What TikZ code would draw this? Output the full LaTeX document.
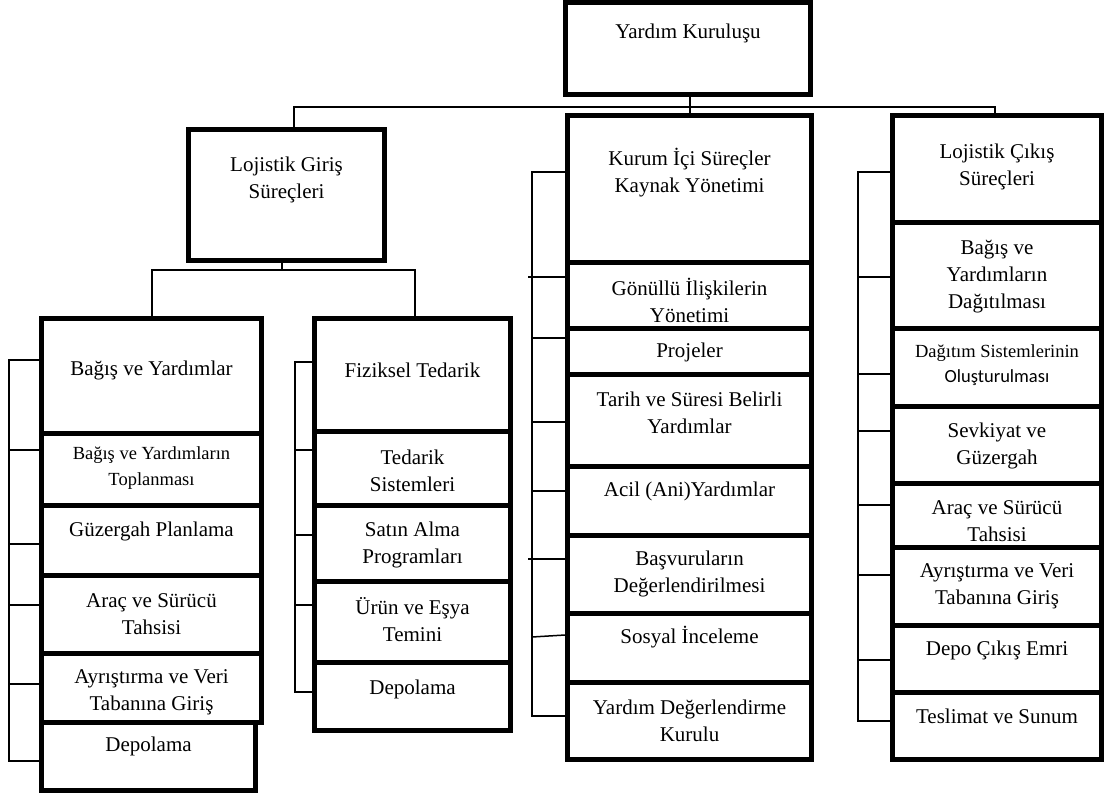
\documentclass[tikz,border=0pt]{standalone}
\usepackage{fontspec}
\setmainfont{Liberation Serif}
\newfontfamily\carlfont{Carlito}
\usetikzlibrary{fit}
\tikzset{
  boxst/.style={draw, line width=5pt, inner sep=0pt, rectangle},
  txt/.style={align=center, font=\fontsize{21}{27}\selectfont, inner sep=0pt},
  smalltxt/.style={align=center, font=\fontsize{18.5}{25.5}\selectfont, inner sep=0pt},
  conn/.style={line width=1.5pt},
}
\newcommand\mkbox[5]{\node[boxst, fit={(#2,-#3) (#4,-#5)}] (#1) {};}
\begin{document}
\begin{tikzpicture}[x=1pt,y=1pt]
\useasboundingbox (0,0) rectangle (1114,-796);

% ---------- boxes ----------
\mkbox{root}{565.5}{2.5}{810.5}{94.5}
\mkbox{lg}{188.5}{129.5}{384.5}{260.5}
% column 1
\mkbox{a1}{41.5}{318.5}{261.5}{433}
\mkbox{a2}{41.5}{433}{261.5}{505}
\mkbox{a3}{41.5}{505}{261.5}{575}
\mkbox{a4}{41.5}{575}{261.5}{653}
\mkbox{a5}{41.5}{653}{261.5}{722}
\mkbox{a6}{41.5}{722}{255.5}{790.5}
% column 2
\mkbox{b1}{314.5}{318.5}{510.5}{431}
\mkbox{b2}{314.5}{431}{510.5}{505}
\mkbox{b3}{314.5}{505}{510.5}{581}
\mkbox{b4}{314.5}{581}{510.5}{662}
\mkbox{b5}{314.5}{662}{510.5}{730.5}
% column 3
\mkbox{c0}{567.5}{115.5}{811.5}{262}
\mkbox{c1}{567.5}{262}{811.5}{328}
\mkbox{c2}{567.5}{328}{811.5}{374}
\mkbox{c3}{567.5}{374}{811.5}{466}
\mkbox{c4}{567.5}{466}{811.5}{535}
\mkbox{c5}{567.5}{535}{811.5}{613}
\mkbox{c6}{567.5}{613}{811.5}{682}
\mkbox{c7}{567.5}{682}{811.5}{759.5}
% column 4
\mkbox{d0}{892.5}{115.5}{1101.5}{222}
\mkbox{d1}{892.5}{222}{1101.5}{328}
\mkbox{d2}{892.5}{328}{1101.5}{406}
\mkbox{d3}{892.5}{406}{1101.5}{483}
\mkbox{d4}{892.5}{483}{1101.5}{547}
\mkbox{d5}{892.5}{547}{1101.5}{625}
\mkbox{d6}{892.5}{625}{1101.5}{692}
\mkbox{d7}{892.5}{692}{1101.5}{759.5}

% ---------- texts ----------
\node[txt] (troot) at (root |- 0,-33) {Yardım Kuruluşu};
\node[txt] (tlg) at (lg |- 0,-180) {Lojistik Giriş\\Süreçleri};
\node[txt] (ta1) at (a1 |- 0,-370) {Bağış ve Yardımlar};
\node[smalltxt] (ta2) at (a2 |- 0,-468) {Bağış ve Yardımların\\Toplanması};
\node[txt] (ta3) at (a3 |- 0,-531) {Güzergah Planlama};
\node[txt] (ta4) at (a4 |- 0,-614) {Araç ve Sürücü\\Tahsisi};
\node[txt] (ta5) at (a5 |- 0,-692) {Ayrıştırma ve Veri\\Tabanına Giriş};
\node[txt] (ta6) at (a6 |- 0,-746) {Depolama};
\node[txt] (tb1) at (b1 |- 0,-370) {Fiziksel Tedarik};
\node[txt] (tb2) at (b2 |- 0,-471) {Tedarik\\Sistemleri};
\node[txt] (tb3) at (b3 |- 0,-545) {Satın Alma\\Programları};
\node[txt] (tb4) at (b4 |- 0,-620) {Ürün ve Eşya\\Temini};
\node[txt] (tb5) at (b5 |- 0,-689) {Depolama};
\node[txt] (tc0) at (c0 |- 0,-173) {Kurum İçi Süreçler\\Kaynak Yönetimi};
\node[txt] (tc1) at (c1 |- 0,-300) {Gönüllü İlişkilerin\\Yönetimi};
\node[txt] (tc2) at (c2 |- 0,-352) {Projeler};
\node[txt] (tc3) at (c3 |- 0,-413) {Tarih ve Süresi Belirli\\Yardımlar};
\node[txt] (tc4) at (c4 |- 0,-491) {Acil (Ani)Yardımlar};
\node[txt] (tc5) at (c5 |- 0,-574) {Başvuruların\\Değerlendirilmesi};
\node[txt] (tc6) at (c6 |- 0,-637) {Sosyal İnceleme};
\node[txt] (tc7) at (c7 |- 0,-721) {Yardım Değerlendirme\\Kurulu};
\node[txt] (td0) at (d0 |- 0,-167) {Lojistik Çıkış\\Süreçleri};
\node[txt] (td1) at (d1 |- 0,-277) {Bağış ve\\Yardımların\\Dağıtılması};
\node[smalltxt] (td2) at (d2 |- 0,-365) {Dağıtım Sistemlerinin\\{\carlfont Oluşturulması}};
\node[txt] (td3) at (d3 |- 0,-446) {Sevkiyat ve\\Güzergah};
\node[txt] (td4) at (d4 |- 0,-521) {Araç ve Sürücü\\Tahsisi};
\node[txt] (td5) at (d5 |- 0,-586) {Ayrıştırma ve Veri\\Tabanına Giriş};
\node[txt] (td6) at (d6 |- 0,-650) {Depo Çıkış Emri};
\node[txt] (td7) at (d7 |- 0,-716) {Teslimat ve Sunum};

% ---------- tree connectors ----------
\coordinate (hub) at (690,-107);
\coordinate (hub2) at (282,-270);
\draw[conn] (root.south -| hub) -- (c0.north -| hub);
\draw[conn] (lg.north -| 294,0) |- (hub) -| (d0.north -| 995,0);
\draw[conn] (lg.south -| hub2) -- (hub2);
\draw[conn] (a1.north -| 152,0) |- (hub2) -| (b1.north -| 415,0);

% ---------- side brackets ----------
\draw[conn] (a1.west |- 0,-360) -| (9,-761) -- (a6.west |- 0,-761);
\foreach \yy in {450,544,605,684}
  \draw[conn] (9,-\yy) -- (a1.west |- 0,-\yy);

\draw[conn] (b1.west |- 0,-362) -| (295,-692) -- (b5.west |- 0,-692);
\foreach \yy in {450,535,605}
  \draw[conn] (295,-\yy) -- (b1.west |- 0,-\yy);

\draw[conn] (c0.west |- 0,-172) -| (532,-716) -- (c7.west |- 0,-716);
\foreach \yy in {338,422,491}
  \draw[conn] (532,-\yy) -- (c0.west |- 0,-\yy);
\draw[conn] (528,-277) -- (c1.west |- 0,-277);
\draw[conn] (528,-559) -- (c5.west |- 0,-559);
\draw[conn] (532,-637) -- (c6.west |- 0,-635);

\draw[conn] (d0.west |- 0,-172) -| (858,-721) -- (d7.west |- 0,-721);
\foreach \yy in {277,374,431,505,575,660}
  \draw[conn] (858,-\yy) -- (d0.west |- 0,-\yy);
\end{tikzpicture}
\end{document}
